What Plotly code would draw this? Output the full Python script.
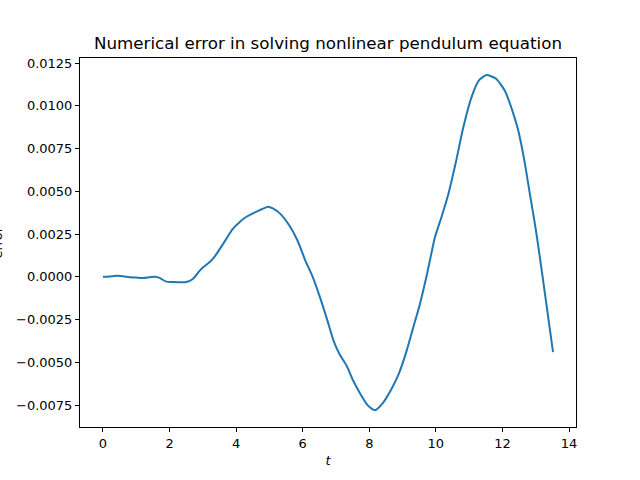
import plotly.graph_objects as go

t = [0, 0.2, 0.4, 0.6, 0.8, 1.0, 1.2, 1.4, 1.56, 1.7, 1.9, 2.1, 2.3, 2.5, 2.7, 2.9,
     3.0, 3.2, 3.36, 3.6, 3.9, 4.1, 4.3, 4.6, 4.97, 5.1, 5.32, 5.6, 5.85, 6.07, 6.3,
     6.52, 6.75, 6.92, 7.1, 7.32, 7.5, 7.72, 7.95, 8.17, 8.4, 8.71, 8.9, 9.11, 9.3,
     9.52, 9.75, 9.97, 10.17, 10.37, 10.6, 10.82, 11.07, 11.3, 11.52, 11.8, 12.07,
     12.25, 12.47, 12.65, 12.82, 13.0, 13.12, 13.3, 13.52]
error = [0.0, 0.00002, 0.00006, 0.00004, -0.00002, -0.00004, -0.00006, -0.00002,
         0.00001, -0.00006, -0.00028, -0.00030, -0.00032, -0.00030, -0.00012, 0.00035,
         0.00055, 0.00085, 0.0012, 0.0019, 0.0028, 0.0032, 0.0035, 0.0038, 0.0041,
         0.0040, 0.0037, 0.0030, 0.0021, 0.0010, 0.0, -0.0012, -0.0026, -0.0037,
         -0.0045, -0.0052, -0.0060, -0.0068, -0.0075, -0.0078, -0.0074, -0.0064,
         -0.0056, -0.0044, -0.0031, -0.0016, 0.0003, 0.0023, 0.0035, 0.0048, 0.0067,
         0.0087, 0.0105, 0.0115, 0.0118, 0.0116, 0.0109, 0.0100, 0.0086, 0.0069,
         0.0049, 0.0028, 0.0012, -0.0013, -0.0044]

xtick_vals = [0, 2, 4, 6, 8, 10, 12, 14]
ytick_vals = [-0.0075, -0.0050, -0.0025, 0.0, 0.0025, 0.0050, 0.0075, 0.0100, 0.0125]
ytick_text = ["\u22120.0075", "\u22120.0050", "\u22120.0025", "0.0000", "0.0025",
              "0.0050", "0.0075", "0.0100", "0.0125"]

font = "DejaVu Sans"
fig = go.Figure()
fig.add_trace(go.Scatter(x=t, y=error, mode="lines",
                         line=dict(color="#1f77b4", width=2, shape="spline", smoothing=0.6)))

axis_common = dict(showline=True, linecolor="black", linewidth=1, mirror=True,
                   showgrid=False, zeroline=False, ticks="outside", ticklen=4,
                   tickcolor="black", tickwidth=1,
                   tickfont=dict(family=font, size=13, color="black"))

fig.update_layout(
    width=640, height=480,
    margin=dict(l=80, r=64, t=58, b=53),
    paper_bgcolor="white", plot_bgcolor="white",
    showlegend=False,
    title=dict(text="Numerical error in solving nonlinear pendulum equation",
               x=0.5, xanchor="center", xref="paper", y=1 - 43 / 480, yanchor="middle",
               font=dict(family=font, size=16.7, color="black")),
    xaxis=dict(range=[-0.69, 14.21], tickvals=xtick_vals,
               title=dict(text="<i>t</i>", font=dict(family=font, size=13, color="black"),
                          standoff=6),
               **axis_common),
    yaxis=dict(range=[-0.00878, 0.0128], tickvals=ytick_vals, ticktext=ytick_text,
               **axis_common),
    annotations=[dict(text="error", textangle=-90, xref="paper", yref="paper",
                      x=(-3 - 80) / 496, y=0.5, xanchor="center", yanchor="middle",
                      showarrow=False, font=dict(family=font, size=13, color="black"))],
)

fig.write_html("out.html", config={"displayModeBar": False},
               post_script="document.body.style.margin='0';")
